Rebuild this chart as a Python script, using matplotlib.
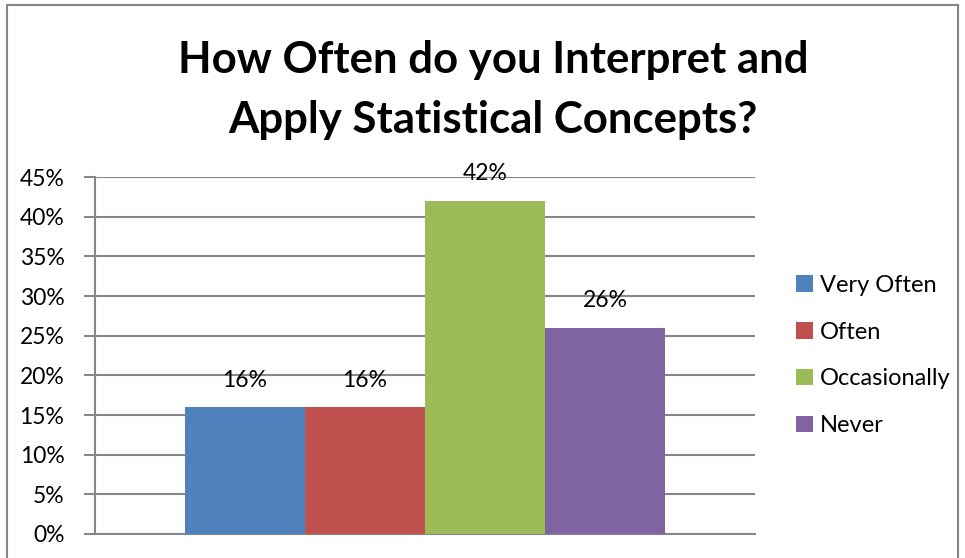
import matplotlib
matplotlib.use("Agg")
import matplotlib.pyplot as plt
from matplotlib.patches import Rectangle

categories = ["Very Often", "Often", "Occasionally", "Never"]
values = [16, 16, 42, 26]
colors = ["#4F81BD", "#C0504D", "#9BBB59", "#8064A2"]
yticks = [0, 5, 10, 15, 20, 25, 30, 35, 40, 45]
title_lines = ["How Often do you Interpret and", "Apply Statistical Concepts?"]

plt.rcParams['font.family'] = ['Lato', 'DejaVu Sans']

fig = plt.figure(figsize=(9.65, 5.58), dpi=100)
W, H = 965, 558
# figure border
fig.patches.append(Rectangle((7 / W, -0.05), (958 - 7) / W, (H - 5) / H + 0.05,
                             transform=fig.transFigure, fill=False,
                             edgecolor="#868686", linewidth=1.5))

ax = fig.add_axes([95 / W, 1 - 534 / H, (755 - 95) / W, (534 - 177) / H])
w = 120 / 660
for i, (c, v, col) in enumerate(zip(categories, values, colors)):
    x = 0.5 + (i - 1.5) * w
    ax.bar(x, v, width=w, color=col, label=c, zorder=3)
    ax.text(x, v + 3.4, f"{v}%", ha="center", va="center", fontsize=16.5)

ax.set_xlim(0, 1)
ax.set_ylim(0, 45)
ax.set_yticks(yticks)
ax.set_yticklabels([f"{t}%" for t in yticks], fontsize=16.5)
ax.set_xticks([])
ax.grid(axis="y", color="#878787", linewidth=1.5, zorder=0)
for s in ["top", "right"]:
    ax.spines[s].set_visible(False)
ax.spines["left"].set_color("#878787")
ax.spines["left"].set_linewidth(1.5)
ax.spines["bottom"].set_color("#878787")
ax.spines["bottom"].set_linewidth(1.5)
ax.tick_params(axis="y", length=8, width=1.5, color="#878787", pad=14)

for line, yb in zip(title_lines, [73, 133]):
    fig.text(493 / W, 1 - yb / H, line, ha="center", va="baseline",
             fontsize=31.5, fontweight="bold")

leg = ax.legend(loc="center left", bbox_to_anchor=(1.03, 0.5), frameon=False,
                fontsize=17, handlelength=0.7, handleheight=0.7, handletextpad=0.3,
                labelspacing=1.1)

fig.savefig("out.png", dpi=100)
